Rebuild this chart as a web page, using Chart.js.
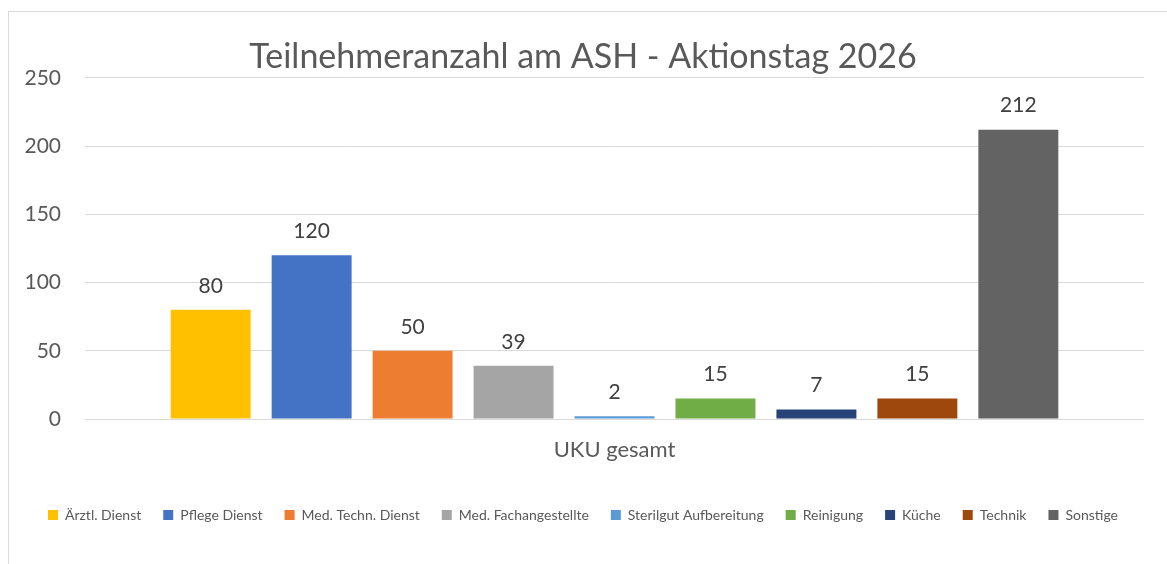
<!DOCTYPE html>
<html>
<head>
<meta charset="utf-8">
<script src="https://cdn.jsdelivr.net/npm/chart.js@4.4.1/dist/chart.umd.min.js"></script>
<style>
    html, body { margin: 0; padding: 0; background: #fff; }
    #frame { position: absolute; left: 8px; top: 11px; width: 1200px; height: 600px; border: 1px solid #d9d9d9; }
    #wrap { position: absolute; left: 0; top: 0; width: 1167px; height: 564px; }
</style>
</head>
<body>
<div id="frame"></div>
<div id="wrap"><canvas id="ashChart" width="1167" height="564"></canvas></div>
<script>
// Teilnehmer je Berufsgruppe
const categories = ['UKU gesamt'];
const groups = ['Ärztl. Dienst', 'Pflege Dienst', 'Med. Techn. Dienst', 'Med. Fachangestellte',
    'Sterilgut Aufbereitung', 'Reinigung', 'Küche', 'Technik', 'Sonstige'];
const counts = [80, 120, 50, 39, 2, 15, 7, 15, 212];
const yTicks = [0, 50, 100, 150, 200, 250];

const groupColors = ['#FFC000', '#4472C4', '#ED7D31', '#A5A5A5', '#5B9BD5',
    '#70AD47', '#264478', '#9E480E', '#636363'];

const FONT = 'Lato';
const GREY = '#595959';

// simple value labels above the bars
const valueLabels = {
    id: 'valueLabels',
    afterDatasetsDraw(chart) {
        const ctx = chart.ctx;
        ctx.save();
        ctx.font = '21px ' + FONT;
        ctx.fillStyle = '#404040';
        ctx.textAlign = 'center';
        ctx.textBaseline = 'middle';
        chart.data.datasets.forEach((ds, i) => {
            const meta = chart.getDatasetMeta(i);
            meta.data.forEach((bar, j) => {
                ctx.fillText(ds.data[j], bar.x, bar.y - 24);
            });
        });
        ctx.restore();
    }
};

function loadChart() {
    const ctx = document.getElementById('ashChart');

    new Chart(ctx, {
        type: 'bar',
        data: {
            labels: categories,
            datasets: groups.map((name, i) => ({
                label: name,
                data: [counts[i]],
                backgroundColor: groupColors[i],
                borderWidth: 0,
                categoryPercentage: 0.858,
                barPercentage: 0.792
            }))
        },
        options: {
            responsive: false,
            animation: false,
            layout: { padding: { left: 22, right: 23, top: 0, bottom: 32 } },
            scales: {
                x: {
                    grid: { display: false },
                    border: { display: false },
                    ticks: { color: GREY, font: { family: FONT, size: 22 }, padding: 10 },
                    afterFit: s => { s.height = 67; }
                },
                y: {
                    min: 0,
                    max: 250,
                    afterBuildTicks: s => { s.ticks = yTicks.map(v => ({ value: v })); },
                    grid: { color: '#d9d9d9', drawTicks: false },
                    border: { display: false },
                    ticks: { color: GREY, font: { family: FONT, size: 21 }, padding: 24 },
                    afterFit: s => { s.width = 63; }
                }
            },
            plugins: {
                title: {
                    display: true,
                    text: 'Teilnehmeranzahl am ASH - Aktionstag 2026',
                    color: GREY,
                    font: { family: FONT, size: 34, weight: 'normal' },
                    padding: { top: 37, bottom: 0 }
                },
                legend: {
                    position: 'bottom',
                    labels: {
                        color: GREY,
                        font: { family: FONT, size: 14 },
                        boxWidth: 10,
                        boxHeight: 10,
                        padding: 22
                    }
                },
                tooltip: { enabled: false }
            }
        },
        plugins: [valueLabels]
    });
}

document.addEventListener('DOMContentLoaded', loadChart);
</script>
</body>
</html>
